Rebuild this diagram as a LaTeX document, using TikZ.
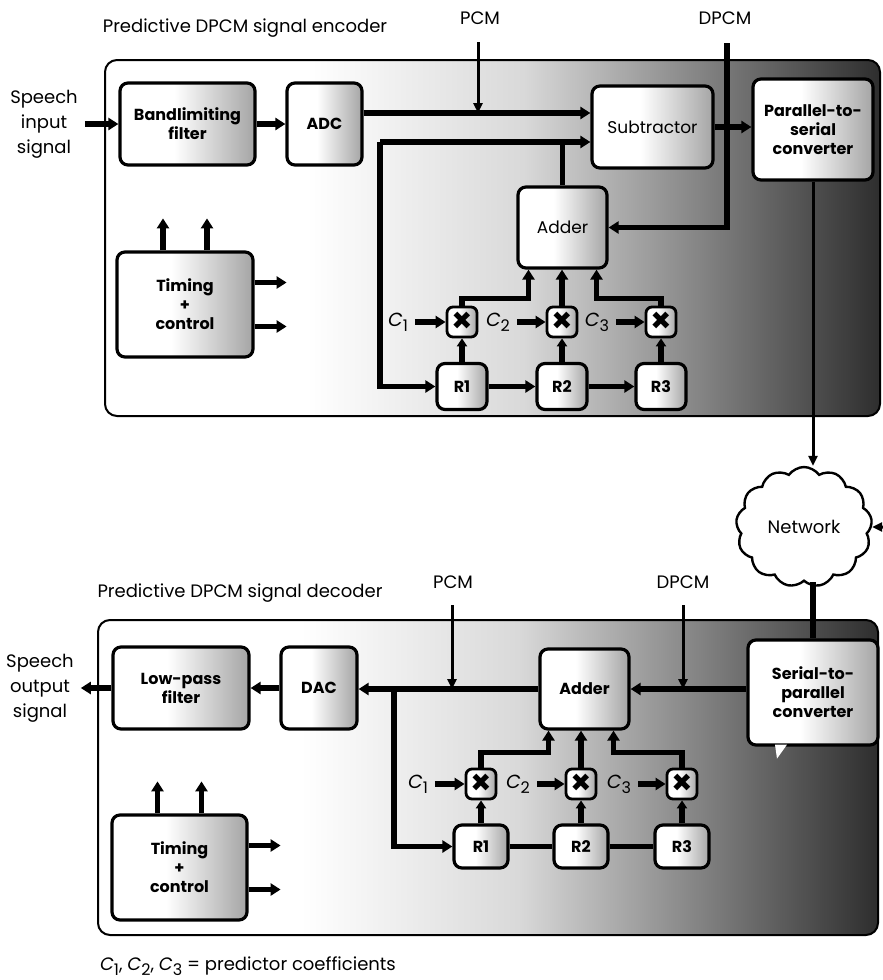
\documentclass[tikz,border=0pt]{standalone}
\usepackage{fontspec}
\setmainfont{Poppins}
\usetikzlibrary{arrows.meta, positioning, shapes.symbols, calc}

\pgfdeclarehorizontalshading{panelshade}{100bp}{color(0bp)=(white); color(38bp)=(white);
  color(52bp)=(black!15); color(64bp)=(black!50); color(76bp)=(black!85); color(100bp)=(black!97)}
\pgfdeclarehorizontalshading{blockshade}{100bp}{color(0bp)=(white); color(45bp)=(white);
  color(100bp)=(black!65)}
\newcommand\coefsym[1]{\textit{C}\raisebox{-0.5ex}{\footnotesize #1}}

\begin{document}
\begin{tikzpicture}[x=0.5pt, y=-0.5pt,
  panel/.style={draw=black, line width=1pt, rounded corners=6pt, shade, shading=panelshade},
  blk/.style={draw=black, line width=1.6pt, rounded corners=4pt, shade, shading=blockshade,
              align=center, inner sep=1pt, font=\bfseries\fontsize{8}{9.5}\selectfont},
  mult/.style={draw=black, line width=1.4pt, rounded corners=3pt, shade, shading=blockshade,
               minimum size=15pt, inner sep=0pt, font=\bfseries\fontsize{17}{17}\selectfont},
  reg/.style={blk, minimum width=25pt, minimum height=23pt},
  lbl/.style={font=\fontsize{9}{12.5}\selectfont, align=center},
  coef/.style={font=\fontsize{9.5}{10}\selectfont},
  bus/.style={line width=2.6pt},
  busarrow/.style={bus, -{Triangle[length=5pt, width=6pt]}},
  ptr/.style={line width=1.5pt, -{Triangle[length=5pt, width=4.5pt]}}]
\useasboundingbox (0,0) rectangle (883,980);

% Encoder panel
\node[panel, minimum width=387.5pt, minimum height=178pt] (encpanel) at (492.5,238) {};
\node[lbl] (enctitle) at (245,28) {Predictive DPCM signal encoder};
\node[lbl] (encpcm) at (480,18) {PCM};
\node[lbl] (encdpcm) at (725,18) {DPCM};
\node[lbl] (spin) at (44,124) {Speech\\input\\signal};

% Encoder blocks
\node[blk, minimum width=67.5pt, minimum height=41pt] (bpf) at (187.5,124) {Bandlimiting\\filter};
\node[blk, minimum width=37.5pt, minimum height=41pt] (adc) at (324.5,124) {ADC};
\node[blk, minimum width=60.5pt, minimum height=41pt, font=\fontsize{8.5}{10}\selectfont] (sub) at (652.5,127) {Subtractor};
\node[blk, minimum width=60pt, minimum height=50.5pt] (p2s) at (813,129.5) {Parallel-to-\\serial\\converter};
\node[blk, minimum width=44.5pt, minimum height=40.5pt, font=\fontsize{8.5}{10}\selectfont] (eadd) at (562.5,227.5) {Adder};
\node[blk, minimum width=68pt, minimum height=52.5pt] (etim) at (185,304.5) {Timing\\+\\control};
\foreach \k/\x in {1/462, 2/562, 3/661} {
  \node[mult] (em\k) at (\x,322) {×};
  \node[reg] (er\k) at (\x,386.5) {R\k};
  \node[coef] (ec\k) at (\x-64,322) {\coefsym{\k}};
  \draw[busarrow] (ec\k) -- (em\k);
  \draw[bus, -{Triangle[length=4pt, width=5pt]}] (er\k) -- (em\k);
}

% Encoder connections
\coordinate (pcmtop) at (478,42);
\coordinate (pcmE) at (478,113);
\coordinate (fbL) at (380,142);
\coordinate (dpcmtop) at (727,43);
\draw[busarrow] (spin.east) -- (bpf.west);
\draw[busarrow] (bpf) -- (adc);
\draw[busarrow] (adc.east |- pcmE) -- (sub.west |- pcmE);
\draw[ptr] (pcmtop) -- (pcmE);
\draw[bus] (eadd.north) -- (eadd.north |- fbL);
\draw[busarrow] (fbL) -- (sub.west |- fbL);
\draw[busarrow] (fbL) |- (er1.west);
\draw[busarrow] (sub.east) -- (p2s.west |- sub.east);
\draw[busarrow] (dpcmtop) |- (eadd.east);
\draw[busarrow] (em1.north) |- ($(eadd.south)+(-34,29)$) -- ($(eadd.south)+(-34,0)$);
\draw[busarrow] (em2.north) -- (em2.north |- eadd.south);
\draw[busarrow] (em3.north) |- ($(eadd.south)+(34,29)$) -- ($(eadd.south)+(34,0)$);
\draw[busarrow] (er1) -- (er2);
\draw[busarrow] (er2) -- (er3);
\foreach \k/\d in {1/-22, 2/22} {
  \coordinate (etu\k) at ($(etim.north)+(\d,-32)$);
  \draw[busarrow] (etim.north -| etu\k) -- (etu\k);
  \coordinate (etr\k) at ($(etim.east)+(32,\d)$);
  \draw[busarrow] (etim.east |- etr\k) -- (etr\k);
}

% Network
\node[cloud, draw, line width=1.2pt, cloud puffs=13, cloud puff arc=110, aspect=1.2,
      minimum width=68pt, minimum height=60pt, inner sep=0pt, fill=white, lbl] (net) at (804,527) {Network};
\coordinate (netin) at (898,527);
\draw[ptr] (p2s.south) -- (p2s.south |- net.north);
\draw[ptr] (netin) -- (net.east);

% Decoder panel
\node[panel, minimum width=390pt, minimum height=157.5pt] (decpanel) at (488,777.5) {};
\node[lbl] (dectitle) at (240,593) {Predictive DPCM signal decoder};
\node[lbl] (decpcm) at (453,582) {PCM};
\node[lbl] (decdpcm) at (683,582) {DPCM};
\node[lbl] (spout) at (40,688) {Speech\\output\\signal};

% Decoder blocks
\node[blk, minimum width=68pt, minimum height=41pt] (lpf) at (181,688) {Low-pass\\filter};
\node[blk, minimum width=38pt, minimum height=41pt] (dac) at (319,688) {DAC};
\node[blk, minimum width=44.5pt, minimum height=40pt] (dadd) at (584.5,689) {Adder};
\node[blk, minimum width=65pt, minimum height=52.5pt] (s2p) at (813,692.5) {Serial-to-\\parallel\\converter};
\fill[white] ($(s2p.south)+(-38,-2)$) -- ++(12,0) -- ++(-10,14) -- cycle;
\node[blk, minimum width=67.5pt, minimum height=52.5pt] (dtim) at (179.5,867.5) {Timing\\+\\control};
\foreach \k/\x in {1/481, 2/581, 3/682} {
  \node[mult] (dm\k) at (\x,784) {×};
  \node[reg, minimum width=27pt, minimum height=21.5pt] (dr\k) at (\x,846.5) {R\k};
  \node[coef] (dc\k) at (\x-63,784) {\coefsym{\k}};
  \draw[busarrow] (dc\k) -- (dm\k);
  \draw[bus, -{Triangle[length=4pt, width=5pt]}] (dr\k) -- (dm\k);
}

% Decoder connections
\coordinate (dpcmtopd) at (683,605);
\coordinate (pcmtopd) at (452,605);
\coordinate (dfbT) at (394,689);
\draw[bus] (s2p.north |- net.south) -- (s2p.north);
\draw[busarrow] (s2p.west |- dadd.east) -- (dadd.east);
\draw[ptr] (dpcmtopd) -- (dpcmtopd |- dadd.east);
\draw[busarrow] (dadd.west) -- (dac.east |- dadd.west);
\draw[ptr] (pcmtopd) -- (pcmtopd |- dadd.west);
\draw[busarrow] (dfbT) |- (dr1.west);
\draw[busarrow] (dac) -- (lpf);
\draw[busarrow] (lpf.west) -- (spout.east);
\draw[busarrow] (dm1.north) |- ($(dadd.south)+(-36,22)$) -- ($(dadd.south)+(-36,0)$);
\draw[busarrow] (dm2.north) -- (dm2.north |- dadd.south);
\draw[busarrow] (dm3.north) |- ($(dadd.south)+(29,22)$) -- ($(dadd.south)+(29,0)$);
\draw[bus] (dr1) -- (dr2);
\draw[bus] (dr2) -- (dr3);
\foreach \k/\d in {1/-22, 2/22} {
  \coordinate (dtu\k) at ($(dtim.north)+(\d,-32)$);
  \draw[busarrow] (dtim.north -| dtu\k) -- (dtu\k);
  \coordinate (dtr\k) at ($(dtim.east)+(32,\d)$);
  \draw[busarrow] (dtim.east |- dtr\k) -- (dtr\k);
}

% Key
\node[lbl] (key) at (248,966) {\coefsym{1}, \coefsym{2}, \coefsym{3} = predictor coefficients};
\end{tikzpicture}
\end{document}
